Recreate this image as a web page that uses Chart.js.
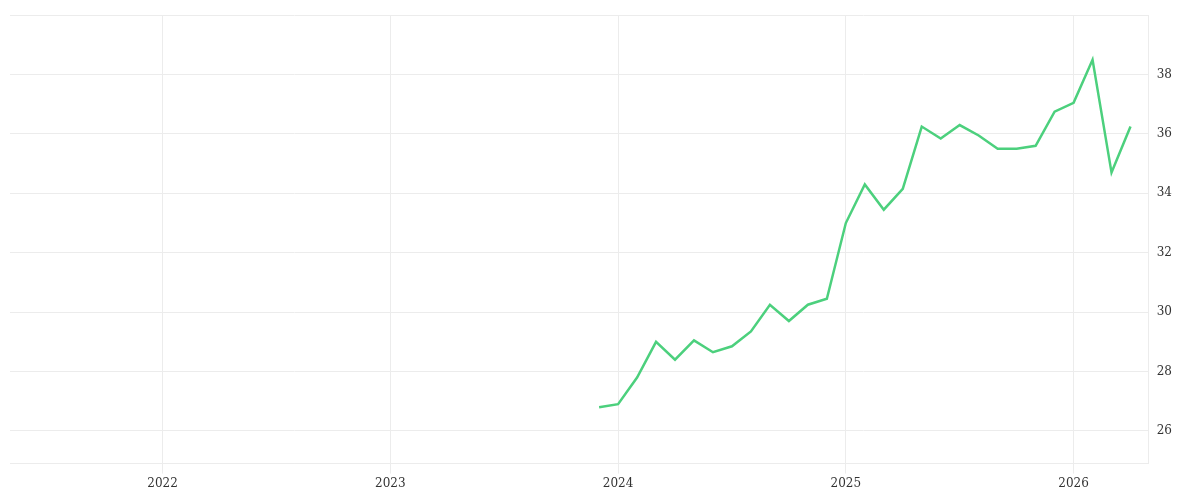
<!DOCTYPE html>
<html>
<head>
<meta charset="UTF-8">
<script src="https://cdn.jsdelivr.net/npm/chart.js"></script>
<style>
  body { margin: 0; background: #fff; }
  #wrap { width: 1200px; height: 500px; }
</style>
</head>
<body>
<div id="wrap"><canvas id="c"></canvas></div>
<script>
// monthly points, Dec 2023 .. Apr 2026
const months = ['2023-12','2024-01','2024-02','2024-03','2024-04','2024-05','2024-06','2024-07','2024-08','2024-09','2024-10','2024-11','2024-12',
  '2025-01','2025-02','2025-03','2025-04','2025-05','2025-06','2025-07','2025-08','2025-09','2025-10','2025-11','2025-12',
  '2026-01','2026-02','2026-03','2026-04'];
const values = [26.8, 26.9, 27.8, 29.0, 28.4, 29.05, 28.65, 28.85, 29.35, 30.25, 29.7, 30.25, 30.45,
  33.0, 34.3, 33.45, 34.15, 36.25, 35.85, 36.3, 35.95, 35.5, 35.5, 35.6, 36.75,
  37.05, 38.5, 34.7, 36.25];
const yearTicks = [2022, 2023, 2024, 2025, 2026];
const yTicks = [26, 28, 30, 32, 34, 36, 38];

function toYear(m) {
  const [y, mo] = m.split('-').map(Number);
  return y + (mo - 1) / 12;
}
const points = months.map((m, i) => ({ x: toYear(m), y: values[i] }));
const font = { family: "'DejaVu Serif', 'Liberation Serif', serif", size: 12 };

new Chart(document.getElementById('c'), {
  type: 'line',
  data: { datasets: [{ data: points, borderColor: '#4cd07d', borderWidth: 2.5, pointRadius: 0, tension: 0 }] },
  options: {
    responsive: true, maintainAspectRatio: false, animation: false,
    layout: { padding: { left: 10, top: 10, right: 20, bottom: 6 } },
    plugins: { legend: { display: false }, tooltip: { enabled: false } },
    scales: {
      x: {
        type: 'linear', min: 2021.33, max: 2026.33,
        afterBuildTicks: s => { s.ticks = yearTicks.map(v => ({ value: v })); },
        ticks: { color: '#333', font: font, callback: v => String(v), maxRotation: 0 },
        grid: { color: '#ececec', tickLength: 10 },
        border: { color: '#ececec' }
      },
      y: {
        position: 'right', min: 24.9, max: 40,
        afterBuildTicks: s => { s.ticks = [24.9].concat(yTicks, [40]).map(v => ({ value: v })); },
        ticks: { color: '#333', font: font, padding: 8, callback: v => yTicks.includes(v) ? String(v) : '' },
        grid: { color: '#ececec', tickLength: 0 },
        border: { color: '#ececec' }
      }
    }
  }
});
</script>
</body>
</html>
